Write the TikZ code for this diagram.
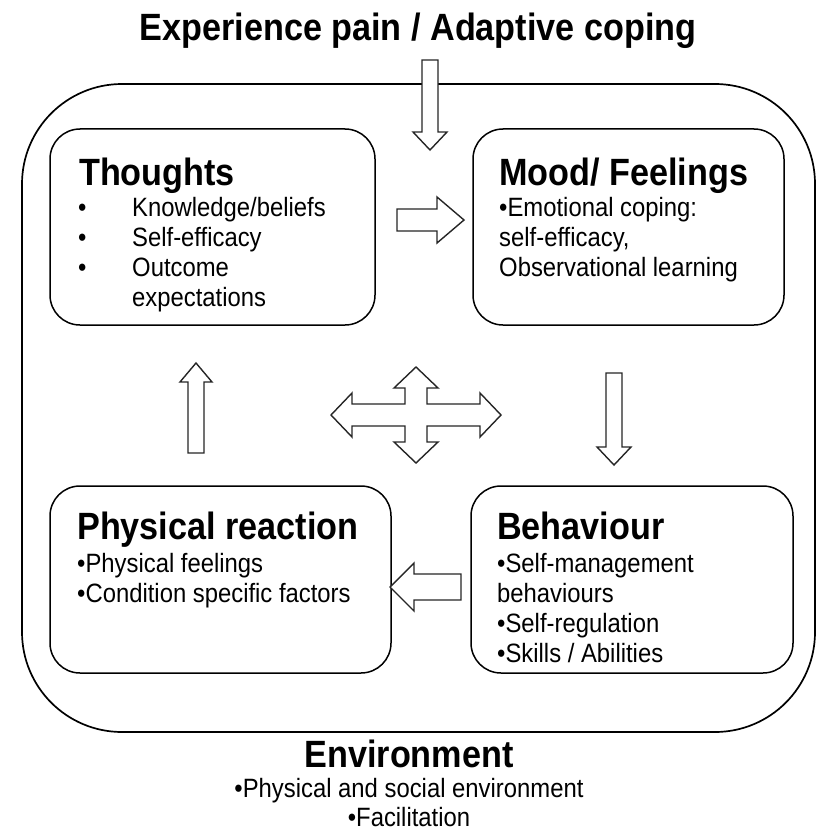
\documentclass[tikz,border=0pt]{standalone}
\usepackage{fontspec}
\setmainfont[FakeStretch=0.9]{Liberation Sans}
\usepackage{tikz}
\usetikzlibrary{positioning}
\tikzset{
  frame/.style={draw=black, line width=1.7pt, rounded corners=100pt, inner sep=0pt},
  panel/.style={draw=black, line width=1.5pt, rounded corners=30pt, inner sep=0pt},
  barrow/.style={draw=black!85, line width=1.4pt, fill=white, line join=miter},
  head/.style={font=\bfseries\fontsize{38}{44}\selectfont, inner sep=0pt, anchor=base west},
  item/.style={font=\fontsize{26.5}{30}\selectfont, inner sep=0pt, anchor=base west}
}

\begin{document}
\begin{tikzpicture}[x=1pt,y=-1pt]
  \fill[white] (0,0) rectangle (819,832);
  \useasboundingbox (0,0) rectangle (819,832);

  % environment frame and the four panels
  \node[frame, minimum width=793pt, minimum height=648pt] (frame) at (418.5,408) {};
  \node[panel, minimum width=325pt, minimum height=196pt] (thoughts) at (212.5,227) {};
  \node[panel, minimum width=311pt, minimum height=196pt] (mood) at (628.5,227) {};
  \node[panel, minimum width=341pt, minimum height=187pt] (physical) at (220.5,579.5) {};
  \node[panel, minimum width=322pt, minimum height=187pt] (behaviour) at (632,579.5) {};

  % titles
  \node[head, anchor=base] (title) at (418,41) {Experience pain / Adaptive coping};
  \node[head, anchor=base] (envhead) at (409,767) {Environment};
  \node[item, anchor=base] (env1) at (409,797) {•Physical and social environment};
  \node[item, anchor=base] (env2) at (409,826) {•Facilitation};

  % thoughts
  \node[head] (thhead) at (79,185) {Thoughts};
  \node[item] (thb1) at (78,216) {•};
  \node[item] (thb2) at (78,246) {•};
  \node[item] (thb3) at (78,276) {•};
  \node[item] (th1) at (132,216) {Knowledge/beliefs};
  \node[item] (th2) at (132,246) {Self-efficacy};
  \node[item] (th3) at (132,276) {Outcome};
  \node[item] (th4) at (132,306) {expectations};

  % mood
  \node[head] (mdhead) at (499,185) {Mood/ Feelings};
  \node[item] (md1) at (499,216) {•Emotional coping:};
  \node[item] (md2) at (499,246) {self-efficacy,};
  \node[item] (md3) at (499,276) {Observational learning};

  % physical reaction
  \node[head] (phhead) at (77,539) {Physical reaction};
  \node[item] (ph1) at (77,572) {•Physical feelings};
  \node[item] (ph2) at (77,602) {•Condition specific factors};

  % behaviour
  \node[head] (behead) at (497,539) {Behaviour};
  \node[item] (be1) at (497,572) {•Self-management};
  \node[item] (be2) at (497,602) {behaviours};
  \node[item] (be3) at (497,632) {•Self-regulation};
  \node[item] (be4) at (497,662) {•Skills / Abilities};

  % block arrows
  \draw[barrow] (422,60) -- (438,60) -- (438,132) -- (447,132) -- (430,150)
    -- (413,132) -- (422,132) -- cycle;
  \draw[barrow] (397,209) -- (437,209) -- (437,197) -- (464,220) -- (437,243)
    -- (437,231) -- (397,231) -- cycle;
  \draw[barrow] (606,373) -- (622,373) -- (622,447) -- (631,447) -- (614,465)
    -- (597,447) -- (606,447) -- cycle;
  \draw[barrow] (188,453) -- (188,382) -- (180,382) -- (196,363) -- (212,382)
    -- (204,382) -- (204,453) -- cycle;
  \draw[barrow] (461,574) -- (414,574) -- (414,563) -- (390,587) -- (414,611)
    -- (414,600) -- (461,600) -- cycle;
  \draw[barrow] (331,415) -- (352,393) -- (352,404) -- (405,404) -- (405,388)
    -- (394,388) -- (416,367) -- (438,388) -- (427,388) -- (427,404)
    -- (480,404) -- (480,393) -- (501,415) -- (480,437) -- (480,426)
    -- (427,426) -- (427,442) -- (438,442) -- (416,463) -- (394,442)
    -- (405,442) -- (405,426) -- (352,426) -- (352,437) -- cycle;
\end{tikzpicture}
\end{document}
